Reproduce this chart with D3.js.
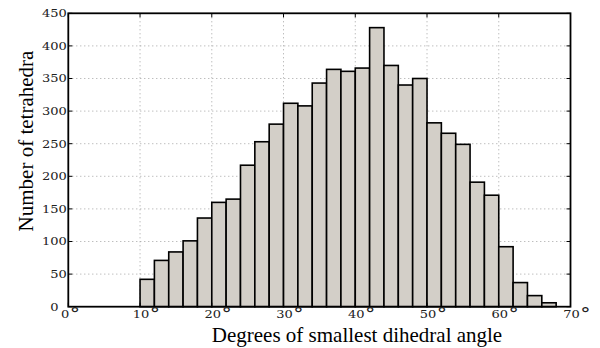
<!DOCTYPE html>
<html>
<head>
<meta charset="utf-8">
<script src="https://cdn.jsdelivr.net/npm/d3@7"></script>
<style>
  html, body { margin: 0; padding: 0; background: #fff; }
  svg { display: block; }
</style>
</head>
<body>
<svg id="chart" width="600" height="348"></svg>
<script>
// ---- data ----
const binStarts = [10,12,14,16,18,20,22,24,26,28,30,32,34,36,38,40,42,44,46,48,50,52,54,56,58,60,62,64,66];
const binWidth = 2;
const counts = [42,71,84,101,136,160,165,217,253,280,312,308,343,364,361,366,428,370,340,350,282,266,249,191,171,92,37,17,6];
const xTicks = [0,10,20,30,40,50,60,70];
const yTicks = [0,50,100,150,200,250,300,350,400,450];
const xLabel = "Degrees of smallest dihedral angle";
const yLabel = "Number of tetrahedra";

// ---- layout ----
const svg = d3.select("#chart");
const L = 68.3, R = 570.5, T = 13.3, B = 306.7;
const x = d3.scaleLinear().domain([0, 70]).range([L, R]);
const y = d3.scaleLinear().domain([0, 450]).range([B, T]);
const serif = "Liberation Serif, serif";
const tickFont = "DejaVu Serif, serif";

// grid
const grid = svg.append("g").attr("stroke", "#999").attr("stroke-width", 0.9).attr("stroke-dasharray", "1,3");
grid.selectAll("line.gx").data(xTicks.filter(d => d > 0 && d < 70)).join("line")
  .attr("x1", d => x(d)).attr("x2", d => x(d)).attr("y1", T).attr("y2", B);
grid.selectAll("line.gy").data(yTicks.filter(d => d > 0 && d < 450)).join("line")
  .attr("x1", L).attr("x2", R).attr("y1", d => y(d)).attr("y2", d => y(d));

// bars
const bins = binStarts.map((s, i) => ({ x0: s, x1: s + binWidth, v: counts[i] }));
svg.append("g").selectAll("rect").data(bins).join("rect")
  .attr("x", d => x(d.x0))
  .attr("width", d => x(d.x1) - x(d.x0))
  .attr("y", d => y(d.v))
  .attr("height", d => y(0) - y(d.v))
  .attr("fill", "#d3cfc8")
  .attr("stroke", "#000")
  .attr("stroke-width", 1.6);

// ticks (inward, all sides)
const tk = svg.append("g").attr("stroke", "#000").attr("stroke-width", 1);
const tl = 4;
tk.selectAll("line.tt").data(xTicks).join("line")
  .attr("x1", d => x(d)).attr("x2", d => x(d)).attr("y1", T).attr("y2", T + tl);
tk.selectAll("line.tb").data(xTicks).join("line")
  .attr("x1", d => x(d)).attr("x2", d => x(d)).attr("y1", B).attr("y2", B - tl);
tk.selectAll("line.tl").data(yTicks).join("line")
  .attr("x1", L).attr("x2", L + tl).attr("y1", d => y(d)).attr("y2", d => y(d));
tk.selectAll("line.tr").data(yTicks).join("line")
  .attr("x1", R).attr("x2", R - tl).attr("y1", d => y(d)).attr("y2", d => y(d));

// frame
svg.append("rect").attr("x", L).attr("y", T).attr("width", R - L).attr("height", B - T)
  .attr("fill", "none").attr("stroke", "#000").attr("stroke-width", 1.8);

// y tick labels
const yl = svg.append("g").attr("font-family", tickFont).attr("font-size", 10.4).attr("fill", "#222");
yTicks.forEach(d => {
  const g = yl.append("g").attr("transform", `translate(${d === 0 ? 58.5 : 66.8},${y(d) + 3.8}) scale(1.25,1)`);
  g.append("text").attr("text-anchor", "end").text(d);
});

// x tick labels
const xl = svg.append("g").attr("font-family", tickFont).attr("font-size", 10.4).attr("fill", "#222");
xTicks.forEach(d => {
  const g = xl.append("g").attr("transform", `translate(${x(d) - 7.2},${318.3}) scale(1.25,1)`);
  const t = g.append("text").attr("text-anchor", "start");
  t.append("tspan").text(d);
  t.append("tspan").attr("dx", 0.3).attr("dy", 1).attr("font-size", 16.5).attr("font-weight", 300).text("\u00B0");
});

// axis labels
svg.append("text").attr("x", 357).attr("y", 341.5).attr("text-anchor", "middle")
  .attr("font-family", serif).attr("font-size", 21).attr("fill", "#000").text(xLabel);
svg.append("text").attr("transform", "translate(33,141) rotate(-90)").attr("text-anchor", "middle")
  .attr("font-family", serif).attr("font-size", 21).attr("fill", "#000").text(yLabel);
</script>
</body>
</html>
